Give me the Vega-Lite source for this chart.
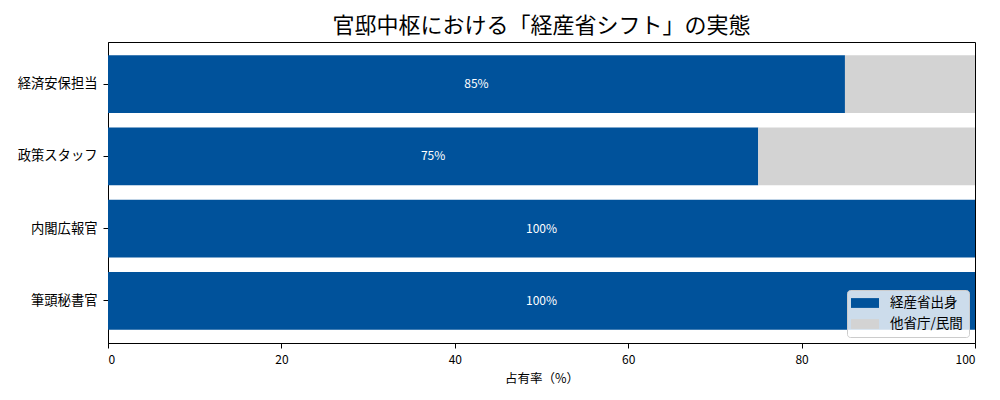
{
  "$schema": "https://vega.github.io/schema/vega-lite/v6.json",
  "width": 867,
  "height": 301,
  "autosize": {"type": "none"},
  "padding": {"left": 108, "top": 42, "right": 25, "bottom": 57},
  "background": "white",
  "title": {
    "text": "官邸中枢における「経産省シフト」の実態",
    "fontSize": 22,
    "font": "Noto Sans CJK JP",
    "fontWeight": "normal",
    "color": "#000",
    "anchor": "middle",
    "offset": 4
  },
  "config": {
    "view": {"stroke": "#000", "strokeWidth": 1},
    "font": "Noto Sans CJK JP",
    "axis": {
      "labelFont": "Noto Sans CJK JP",
      "titleFont": "Noto Sans CJK JP",
      "labelColor": "#000",
      "titleColor": "#000",
      "tickColor": "#000",
      "domainColor": "#000",
      "grid": false,
      "tickSize": 5,
      "labelFontSize": 12,
      "titleFontSize": 12.5,
      "titleFontWeight": "normal"
    }
  },
  "data": {
    "values": [
      {"cat": "経済安保担当", "group": "経産省出身", "pct": 85},
      {"cat": "経済安保担当", "group": "他省庁/民間", "pct": 15},
      {"cat": "政策スタッフ", "group": "経産省出身", "pct": 75},
      {"cat": "政策スタッフ", "group": "他省庁/民間", "pct": 25},
      {"cat": "内閣広報官", "group": "経産省出身", "pct": 100},
      {"cat": "内閣広報官", "group": "他省庁/民間", "pct": 0},
      {"cat": "筆頭秘書官", "group": "経産省出身", "pct": 100},
      {"cat": "筆頭秘書官", "group": "他省庁/民間", "pct": 0}
    ]
  },
  "encoding": {
    "y": {
      "field": "cat",
      "type": "nominal",
      "sort": null,
      "scale": {"paddingInner": 0.2, "paddingOuter": 0.184},
      "axis": {"title": null, "labelFontSize": 13.3, "labelPadding": 6}
    }
  },
  "layer": [
    {
      "transform": [
        {"calculate": "datum.group === '経産省出身' ? 0 : 1", "as": "ord"}
      ],
      "mark": {"type": "bar"},
      "encoding": {
        "x": {
          "field": "pct",
          "type": "quantitative",
          "stack": "zero",
          "scale": {"domain": [0, 100], "nice": false, "zero": true},
          "axis": {
            "values": [0, 20, 40, 60, 80, 100],
            "title": "占有率（%）",
            "titlePadding": 7,
            "labelPadding": 6
          }
        },
        "order": {"field": "ord", "type": "quantitative"},
        "color": {
          "field": "group",
          "type": "nominal",
          "scale": {
            "domain": ["経産省出身", "他省庁/民間"],
            "range": ["#00529b", "#d3d3d3"]
          },
          "legend": {
            "title": null,
            "orient": "bottom-right",
            "offset": 6,
            "fillColor": "rgba(255,255,255,0.8)",
            "strokeColor": "#cccccc",
            "cornerRadius": 3,
            "padding": 6,
            "symbolType": "M-2,-0.7H2V0.7H-2Z",
            "symbolSize": 196,
            "symbolStrokeWidth": 0,
            "symbolOpacity": 1,
            "symbolOffset": 5,
            "labelOffset": 18,
            "labelFontSize": 13.5,
            "labelFont": "Noto Sans CJK JP",
            "labelColor": "#000",
            "rowPadding": 7
          }
        }
      }
    },
    {
      "transform": [
        {"filter": "datum.group === '経産省出身'"},
        {"calculate": "datum.pct / 2", "as": "mid"},
        {"calculate": "datum.pct + '%'", "as": "label"}
      ],
      "mark": {"type": "text", "color": "white", "fontSize": 12, "font": "Noto Sans CJK JP"},
      "encoding": {
        "x": {"field": "mid", "type": "quantitative"},
        "text": {"field": "label"}
      }
    }
  ]
}
